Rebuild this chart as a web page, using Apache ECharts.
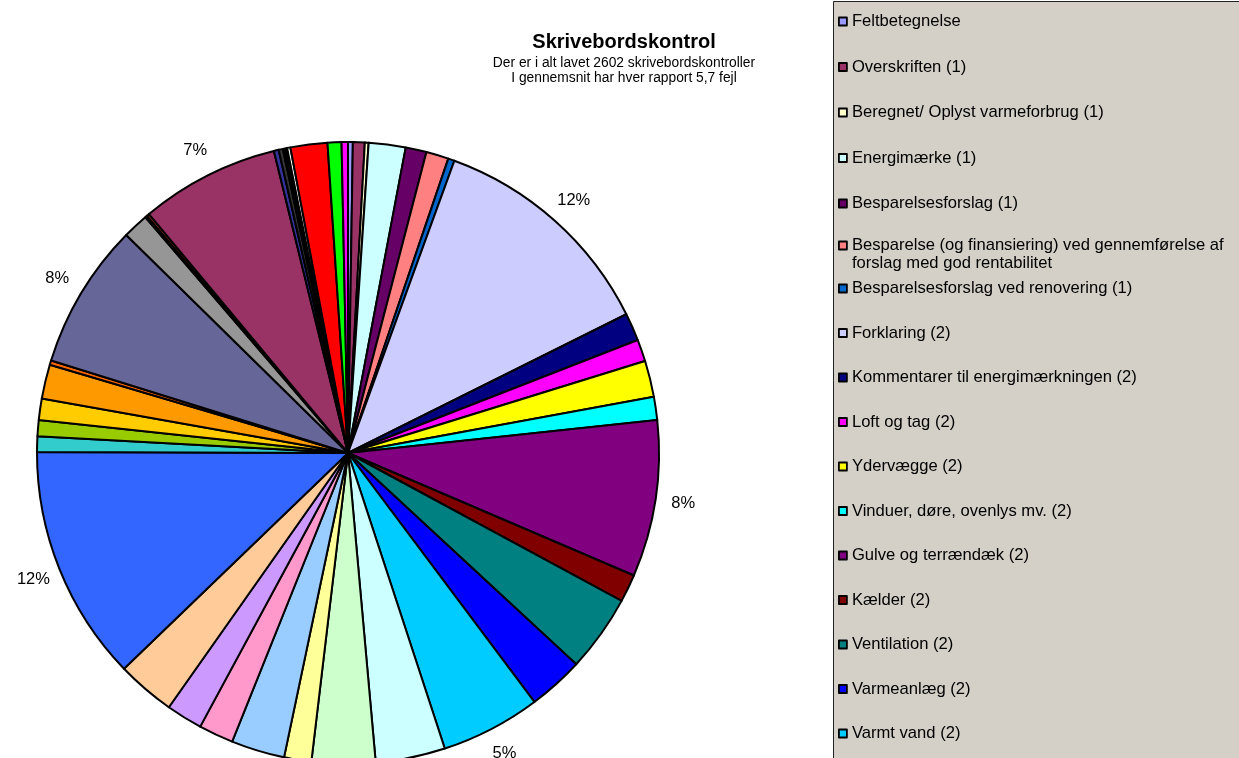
<!DOCTYPE html>
<html><head><meta charset="utf-8">
<script src="https://cdn.jsdelivr.net/npm/echarts@6/dist/echarts.min.js"></script>
<style>html,body{margin:0;padding:0;background:#fff}#c{width:1239px;height:758px}</style>
</head><body><div id="c"></div>
<script>
const titleText = 'Skrivebordskontrol';
const subtitleLines = ['Der er i alt lavet 2602 skrivebordskontroller', 'I gennemsnit har hver rapport 5,7 fejl'];

const categories = [
  'Feltbetegnelse',
  'Overskriften (1)',
  'Beregnet/ Oplyst varmeforbrug (1)',
  'Energimærke (1)',
  'Besparelsesforslag (1)',
  'Besparelse (og finansiering) ved gennemførelse af forslag med god rentabilitet',
  'Besparelsesforslag ved renovering (1)',
  'Forklaring (2)',
  'Kommentarer til energimærkningen (2)',
  'Loft og tag (2)',
  'Ydervægge (2)',
  'Vinduer, døre, ovenlys mv. (2)',
  'Gulve og terrændæk (2)',
  'Kælder (2)',
  'Ventilation (2)',
  'Varmeanlæg (2)',
  'Varmt vand (2)',
  'Punkt 18', 'Punkt 19', 'Punkt 20', 'Punkt 21', 'Punkt 22', 'Punkt 23', 'Punkt 24',
  'Punkt 25', 'Punkt 26', 'Punkt 27', 'Punkt 28', 'Punkt 29', 'Punkt 30', 'Punkt 31',
  'Punkt 32', 'Punkt 33', 'Punkt 34', 'Punkt 35', 'Punkt 36', 'Punkt 37', 'Punkt 38',
  'Punkt 39', 'Punkt 40', 'Punkt 41', 'Punkt 42'
];

// estimated number of errors per category
const values = [
  37, 91, 29, 284, 161, 173, 49, 1792, 214, 169, 280, 177, 1207, 214, 593, 428, 770,
  536, 490, 210, 412, 268, 280, 449, 1817, 119, 124, 165, 264, 33, 1121, 198,
  16, 21, 1071, 37, 33, 33, 25, 284, 107, 49
];

const palette = [
  '#9999FF', '#993366', '#FFFFCC', '#CCFFFF', '#660066', '#FF8080', '#0066CC', '#CCCCFF',
  '#000080', '#FF00FF', '#FFFF00', '#00FFFF', '#800080', '#800000', '#008080', '#0000FF',
  '#00CCFF', '#CCFFFF', '#CCFFCC', '#FFFF99', '#99CCFF', '#FF99CC', '#CC99FF', '#FFCC99',
  '#3366FF', '#33CCCC', '#99CC00', '#FFCC00', '#FF9900', '#FF6600', '#666699', '#969696',
  '#003366', '#993300', '#993366', '#333399', '#333333', '#000000', '#FFFFFF', '#FF0000',
  '#00FF00', '#FF00FF'
];

const legendCount = 17;
const labelThreshold = 4.5;
const FONT = '"Liberation Sans", Arial, sans-serif';

const pieData = categories.map((n, i) => ({ name: n, value: values[i], itemStyle: { color: palette[i] } }));
const labelData = categories.map((n, i) => ({ name: n, value: values[i] }));

const legendBase = {
  orient: 'vertical', left: 838, padding: 0, itemWidth: 8, itemHeight: 8, icon: 'rect',
  selectedMode: false,
  itemStyle: { borderColor: '#000', borderWidth: 1.8 },
  textStyle: { fontFamily: FONT, fontSize: 16.6, color: '#000', lineHeight: 18 }
};

const chart = echarts.init(document.getElementById('c'), null, { renderer: 'canvas' });
chart.setOption({
  animation: false,
  backgroundColor: '#fff',
  title: {
    text: titleText,
    subtext: subtitleLines.join('\n'),
    left: 624, top: 32, padding: 0, itemGap: 3, textAlign: 'center',
    textStyle: { fontFamily: FONT, fontSize: 20, fontWeight: 'bold', color: '#000' },
    subtextStyle: { fontFamily: FONT, fontSize: 13.8, color: '#000', lineHeight: 15.5 }
  },
  graphic: [{
    type: 'rect', silent: true, z: -10,
    shape: { x: 833.5, y: 1.5, width: 420, height: 800 },
    style: { fill: '#D4D0C8', stroke: '#222', lineWidth: 1 }
  }],
  legend: [
    Object.assign({}, legendBase, { top: 12.5, itemGap: 27.5, data: categories.slice(0, 5) }),
    Object.assign({}, legendBase, {
      top: 218.5, data: [categories[5]],
      formatter: n => ' \n' + n.replace(' forslag', '\nforslag')
    }),
    Object.assign({}, legendBase, { top: 279.5, itemGap: 26.5, data: categories.slice(6, legendCount) })
  ],
  series: [
    {
      type: 'pie', center: [348, 453], radius: [0, 311], startAngle: 90, clockwise: true,
      silent: true, avoidLabelOverlap: false,
      itemStyle: { borderColor: '#000', borderWidth: 2 },
      label: { show: false }, labelLine: { show: false },
      emphasis: { disabled: true },
      data: pieData
    },
    {
      type: 'pie', center: [348, 453], radius: [296, 376], startAngle: 90, clockwise: true,
      silent: true, avoidLabelOverlap: false, legendHoverLink: false,
      itemStyle: { color: 'rgba(0,0,0,0)', borderWidth: 0 },
      label: {
        show: true, position: 'inside', rotate: 0,
        fontFamily: FONT, fontSize: 16.5, color: '#000',
        formatter: p => (p.percent >= labelThreshold ? Math.round(p.percent) + '%' : '')
      },
      labelLine: { show: false },
      emphasis: { disabled: true },
      data: labelData
    }
  ]
});
</script>
</body></html>
